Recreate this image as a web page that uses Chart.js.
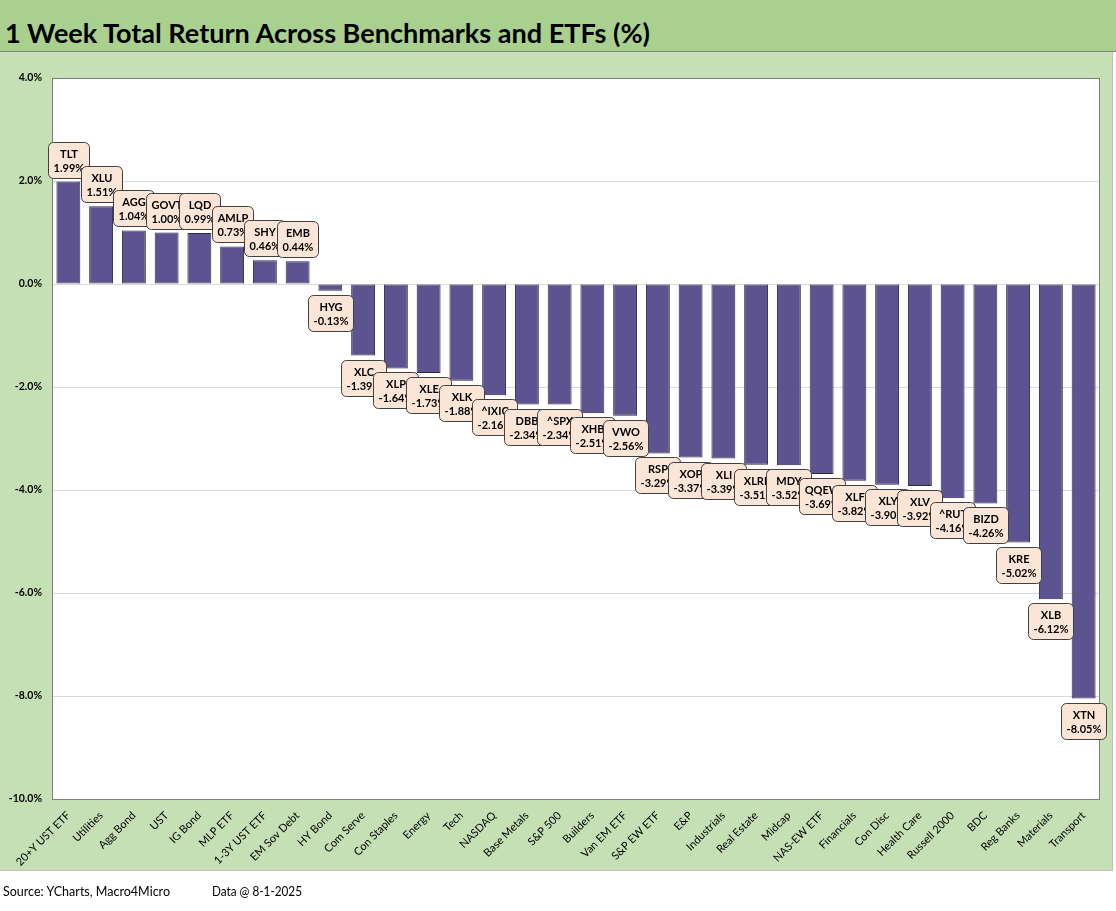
<!DOCTYPE html>
<html><head><meta charset="utf-8">
<script src="https://cdn.jsdelivr.net/npm/chart.js@4.4.1/dist/chart.umd.min.js"></script>
<style>
html,body{margin:0;padding:0;background:#fff;width:1116px;height:911px;overflow:hidden;font-family:Lato,"Open Sans",sans-serif;}
#band{position:absolute;left:0;top:0;width:1116px;height:51px;background:#a9d08e;border-bottom:1px solid #7f7f7f;}
#panel{position:absolute;left:0;top:52px;width:1112px;height:818px;background:#c5e0b4;border-right:1px solid #bfbfbf;border-bottom:1px solid #bfbfbf;}
#title{position:absolute;left:5px;top:19px;font-weight:bold;font-size:26px;line-height:28px;color:#000;white-space:nowrap;transform-origin:0 0;}
.foot{position:absolute;top:883px;font-size:13px;line-height:16px;white-space:nowrap;transform-origin:0 0;color:#000;}
canvas{position:absolute;left:0;top:0;}
</style>
</head><body>
<div id="band"></div>
<div id="panel"></div>
<div id="title" data-w="645">1 Week Total Return Across Benchmarks and ETFs (%)</div>
<canvas id="c" width="1116" height="911"></canvas>
<div class="foot" id="f1" style="left:3px" data-w="167">Source: YCharts, Macro4Micro</div>
<div class="foot" id="f2" style="left:212px" data-w="90">Data @ 8-1-2025</div>
<script>
const categories = ["20+Y UST ETF","Utilities","Agg Bond","UST","IG Bond","MLP ETF","1-3Y UST ETF","EM Sov Debt","HY Bond","Com Serve","Con Staples","Energy","Tech","NASDAQ","Base Metals","S&P 500","Builders","Van EM ETF","S&P EW ETF","E&P","Industrials","Real Estate","Midcap","NAS-EW ETF","Financials","Con Disc","Health Care","Russell 2000","BDC","Reg Banks","Materials","Transport"];
const tickers = ["TLT","XLU","AGG","GOVT","LQD","AMLP","SHY","EMB","HYG","XLC","XLP","XLE","XLK","^IXIC","DBB","^SPX","XHB","VWO","RSP","XOP","XLI","XLRE","MDY","QQEW","XLF","XLY","XLV","^RUT","BIZD","KRE","XLB","XTN"];
const returns = [1.99,1.51,1.04,1.00,0.99,0.73,0.46,0.44,-0.13,-1.39,-1.64,-1.73,-1.88,-2.16,-2.34,-2.34,-2.51,-2.56,-3.29,-3.37,-3.39,-3.51,-3.52,-3.69,-3.82,-3.90,-3.92,-4.16,-4.26,-5.02,-6.12,-8.05];
const yMin = -10, yMax = 4, yStep = 2;

document.querySelectorAll('[data-w]').forEach(el=>{
  const target=parseFloat(el.dataset.w);
  const w=el.getBoundingClientRect().width;
  if(w>0) el.style.transform='scaleX('+(target/w)+')';
});

const bgPlugin = {
  id:'bg',
  beforeDraw(chart){
    const {ctx, chartArea:a} = chart;
    ctx.save();
    ctx.fillStyle='#ffffff';
    ctx.fillRect(a.left,a.top,a.right-a.left,a.bottom-a.top);
    ctx.restore();
  },
  afterDatasetsDraw(chart){
    const {ctx, chartArea:a} = chart;
    ctx.save();
    ctx.strokeStyle='#808080';
    ctx.lineWidth=1;
    ctx.strokeRect(a.left+0.5,a.top+0.5,a.right-a.left-1,a.bottom-a.top);
    ctx.restore();
  }
};

const labelPlugin = {
  id:'boxLabels',
  afterDatasetsDraw(chart){
    const ctx=chart.ctx; const meta=chart.getDatasetMeta(0);
    ctx.save();
    ctx.font='bold 11px Lato, "Open Sans", sans-serif';
    ctx.textAlign='center';
    ctx.textBaseline='middle';
    meta.data.forEach((bar,i)=>{
      const v=returns[i];
      const t1=tickers[i];
      const t2=v.toFixed(2)+'%';
      const w=Math.round(Math.max(ctx.measureText(t1).width, ctx.measureText(t2).width)+10);
      const h=36;
      const x=Math.round(bar.x - w/2)+0.5;
      const y=Math.round(v>=0 ? bar.y - 4 - h : bar.y + 4)+0.5;
      ctx.beginPath();
      ctx.roundRect(x,y,w,h,5);
      ctx.fillStyle='#fbe5d6';
      ctx.fill();
      ctx.strokeStyle='#404040';
      ctx.lineWidth=1;
      ctx.stroke();
      ctx.fillStyle='#000';
      ctx.fillText(t1, x+w/2, y+12);
      ctx.fillText(t2, x+w/2, y+26);
    });
    ctx.restore();
  }
};

new Chart(document.getElementById('c'), {
  type:'bar',
  data:{
    labels:categories,
    datasets:[{
      data:returns,
      backgroundColor:'#5d5390',
      borderColor:'#2e2848',
      borderWidth:1,
      borderSkipped:false,
      barPercentage:0.73,
      categoryPercentage:1.0
    }]
  },
  options:{
    responsive:false,
    animation:false,
    devicePixelRatio:1,
    layout:{padding:{top:78,right:16,left:0,bottom:0}},
    plugins:{legend:{display:false},tooltip:{enabled:false},title:{display:false}},
    scales:{
      x:{
        grid:{display:false},
        border:{display:false},
        ticks:{
          color:'#000',
          font:{family:'Lato, "Open Sans", sans-serif',size:11},
          minRotation:45,maxRotation:45,autoSkip:false,padding:2
        },
        afterFit(s){ s.height=112; }
      },
      y:{
        min:yMin,max:yMax,
        grid:{color:'#d9d9d9',lineWidth:1,drawTicks:false},
        border:{display:false},
        ticks:{
          stepSize:yStep,
          color:'#000',
          padding:10,
          font:{family:'Lato, "Open Sans", sans-serif',size:10.5,weight:'bold'},
          callback:v=>v.toFixed(1)+'%'
        },
        afterFit(s){ s.width=52; }
      }
    }
  },
  plugins:[bgPlugin,labelPlugin]
});
</script>
</body></html>
